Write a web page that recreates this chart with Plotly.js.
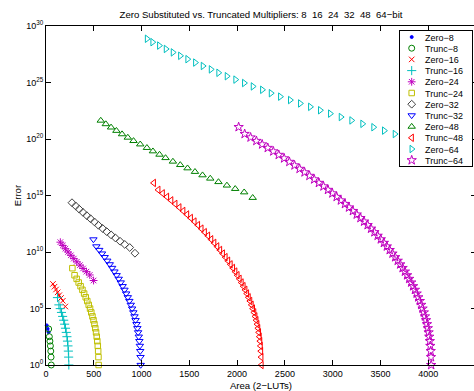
<!DOCTYPE html>
<html><head><meta charset="utf-8">
<script src="https://cdn.plot.ly/plotly-3.0.1.min.js"></script>
<style>html,body{margin:0;padding:0;overflow:hidden;background:#fff}#plot{width:480px;height:391px}</style>
</head><body><div id="plot"></div><script>
// ---- data ----
var zero8X = [8, 17, 27];
var zero8Y = [3.2e3, 1.6e3, 8.0e2];
var trunc8X = [55, 53, 50, 46, 41, 35, 28];
var trunc8Y = [1, 5, 17, 49, 130, 320, 1540];
var zero16X = [73, 89, 105, 122, 139, 157, 176, 202];
var zero16Y = [1.5e7, 8.5e6, 4.8e6, 2.7e6, 1.5e6, 8.5e5, 4.8e5, 1.5e5];
var trunc16X = [239, 237, 234, 230, 225, 219, 212, 204, 195, 185, 174, 162, 149, 135, 120];
var trunc16Y = [1, 5, 17, 49, 130, 320, 770, 1800, 4100, 9200, 2.0e4, 4.5e4, 9.8e4, 2.1e5, 9.2e5];
var zero24X = [150, 176, 203, 231, 260, 291, 322, 355, 388, 423, 458, 498];
var zero24Y = [7.4e10, 3.8e10, 1.95e10, 1.0e10, 5.1e9, 2.6e9, 1.35e9, 6.9e8, 3.5e8, 1.82e8, 9.3e7, 3.0e7];
var trunc24X = [551, 549, 546, 542, 537, 531, 524, 516, 507, 497, 486, 474, 461, 447, 432, 416, 399, 381, 362, 342, 321, 299, 276];
var trunc24Y = [1, 5, 17, 49, 130, 320, 770, 1800, 4100, 9200, 2.0e4, 4.5e4, 9.8e4, 2.1e5, 4.6e5, 9.8e5, 2.1e6, 4.5e6, 9.4e6, 2.0e7, 4.2e7, 8.8e7, 3.7e8];
var zero32X = [272, 310, 348, 387, 427, 467, 507, 549, 592, 636, 681, 727, 775, 824, 876, 931];
var zero32Y = [2.3e14, 1.2e14, 6.2e13, 3.2e13, 1.66e13, 8.7e12, 4.6e12, 2.3e12, 1.23e12, 6.3e11, 3.3e11, 1.74e11, 8.9e10, 4.7e10, 2.5e10, 7.8e9];
var trunc32X = [991, 989, 986, 982, 977, 971, 964, 956, 947, 937, 926, 914, 901, 887, 872, 856, 839, 821, 802, 782, 761, 739, 716, 692, 667, 641, 614, 586, 557, 527, 496];
var trunc32Y = [1, 5, 17, 49, 130, 320, 770, 1800, 4100, 9200, 2.0e4, 4.5e4, 9.8e4, 2.1e5, 4.6e5, 9.8e5, 2.1e6, 4.5e6, 9.4e6, 2.0e7, 4.2e7, 8.8e7, 1.85e8, 3.86e8, 8.05e8, 1.68e9, 3.49e9, 7.25e9, 1.5e10, 3.11e10, 1.29e11];
var zero48X = [573, 626, 681, 737, 796, 856, 916, 986, 1056, 1119, 1188, 1251, 1328, 1405, 1481, 1559, 1638, 1719, 1805, 1893, 1980, 2074, 2163];
var zero48Y = [4.3e21, 2.1e21, 1.07e21, 5.4e20, 2.7e20, 1.35e20, 6.8e19, 3.4e19, 1.66e19, 8.3e18, 4.2e18, 2.1e18, 1.02e18, 5.1e17, 2.6e17, 1.26e17, 6.3e16, 3.2e16, 1.58e16, 7.8e15, 3.9e15, 1.95e15, 6.3e14];
var trunc48X = [2255, 2253, 2250, 2246, 2241, 2235, 2228, 2220, 2211, 2201, 2190, 2178, 2165, 2151, 2136, 2120, 2103, 2085, 2066, 2046, 2025, 2003, 1980, 1956, 1931, 1905, 1878, 1850, 1821, 1791, 1760, 1728, 1695, 1661, 1626, 1590, 1553, 1515, 1476, 1436, 1395, 1353, 1310, 1266, 1221, 1175, 1128];
var trunc48Y = [1, 5, 17, 49, 130, 320, 770, 1800, 4100, 9200, 2.0e4, 4.5e4, 9.8e4, 2.1e5, 4.6e5, 9.8e5, 2.1e6, 4.5e6, 9.4e6, 2.0e7, 4.2e7, 8.8e7, 1.85e8, 3.86e8, 8.05e8, 1.68e9, 3.49e9, 7.25e9, 1.5e10, 3.11e10, 6.44e10, 1.33e11, 2.75e11, 5.67e11, 1.17e12, 2.41e12, 4.95e12, 1.02e13, 2.09e13, 4.29e13, 8.8e13, 1.8e14, 3.69e14, 7.56e14, 1.55e15, 3.17e15, 1.29e16];
var zero64X = [1057, 1115, 1185, 1255, 1328, 1405, 1481, 1562, 1642, 1726, 1805, 1893, 1983, 2074, 2165, 2263, 2354, 2451, 2555, 2660, 2765, 2869, 2974, 3086, 3197, 3312, 3427, 3539, 3651, 3764, 3879];
var zero64Y = [7.4e28, 3.7e28, 1.85e28, 9.3e27, 4.6e27, 2.3e27, 1.16e27, 5.8e26, 2.9e26, 1.45e26, 7.2e25, 3.6e25, 1.8e25, 9.0e24, 4.5e24, 2.26e24, 1.13e24, 5.6e23, 2.8e23, 1.4e23, 7.0e22, 3.5e22, 1.76e22, 8.8e21, 4.4e21, 2.2e21, 1.1e21, 5.5e20, 2.75e20, 1.37e20, 6.9e19];
var trunc64X = [4031, 4029, 4026, 4022, 4017, 4011, 4004, 3996, 3987, 3977, 3966, 3954, 3941, 3927, 3912, 3896, 3879, 3861, 3842, 3822, 3801, 3779, 3756, 3732, 3707, 3681, 3654, 3626, 3597, 3567, 3536, 3504, 3471, 3437, 3402, 3366, 3329, 3291, 3252, 3212, 3171, 3129, 3086, 3042, 2997, 2951, 2904, 2856, 2807, 2757, 2706, 2654, 2601, 2547, 2492, 2436, 2379, 2321, 2262, 2202, 2141, 2079, 2016];
var trunc64Y = [1, 5, 17, 49, 130, 320, 770, 1800, 4100, 9200, 2.0e4, 4.5e4, 9.8e4, 2.1e5, 4.6e5, 9.8e5, 2.1e6, 4.5e6, 9.4e6, 2.0e7, 4.2e7, 8.8e7, 1.85e8, 3.86e8, 8.05e8, 1.68e9, 3.49e9, 7.25e9, 1.5e10, 3.11e10, 6.44e10, 1.33e11, 2.75e11, 5.67e11, 1.17e12, 2.41e12, 4.95e12, 1.02e13, 2.09e13, 4.29e13, 8.8e13, 1.8e14, 3.69e14, 7.56e14, 1.55e15, 3.17e15, 6.47e15, 1.32e16, 2.7e16, 5.52e16, 1.13e17, 2.3e17, 4.68e17, 9.55e17, 1.95e18, 3.96e18, 8.07e18, 1.64e19, 3.34e19, 6.8e19, 1.38e20, 2.81e20, 1.14e21];

var seriesNames = ['Zero\u22128','Trunc\u22128','Zero\u221216','Trunc\u221216','Zero\u221224','Trunc\u221224','Zero\u221232','Trunc\u221232','Zero\u221248','Trunc\u221248','Zero\u221264','Trunc\u221264'];
var xTickVals = [0, 500, 1000, 1500, 2000, 2500, 3000, 3500, 4000, 4500];
var yTickVals = [1, 1e5, 1e10, 1e15, 1e20, 1e25, 1e30];
var yTickText = ['10<sup>0</sup>','10<sup>5</sup>','10<sup>10</sup>','10<sup>15</sup>','10<sup>20</sup>','10<sup>25</sup>','10<sup>30</sup>'];

// ---- styles ----
var C = {b:'#0000ff', g:'#008000', r:'#ff0000', c:'#00bfbf', m:'#bf00bf', y:'#bfbf00', k:'#404040'};
var styles = [
  [C.b,'circle',3], [C.g,'circle-open',6], [C.r,'x-thin-open',5.5], [C.c,'cross-thin-open',6.5],
  [C.m,'asterisk-open',6.5], [C.y,'square-open',5.5], [C.k,'diamond-open',6], [C.b,'triangle-down-open',6.5],
  [C.g,'triangle-up-open',6.5], [C.r,'triangle-left-open',6.5], [C.c,'triangle-right-open',6.5], [C.m,'star-open',7]
];
var xs = [zero8X,trunc8X,zero16X,trunc16X,zero24X,trunc24X,zero32X,trunc32X,zero48X,trunc48X,zero64X,trunc64X];
var ys = [zero8Y,trunc8Y,zero16Y,trunc16Y,zero24Y,trunc24Y,zero32Y,trunc32Y,zero48Y,trunc48Y,zero64Y,trunc64Y];
var traces = xs.map(function(x,i){
  var s = styles[i];
  return {type:'scatter', mode:'markers', name:seriesNames[i], x:x, y:ys[i], cliponaxis:false,
    marker:{color:s[0], symbol:s[1], size:s[2], line:{color:s[0], width:1}}};
});

var FONT = 'Liberation Sans, Arial, Helvetica, sans-serif';
var layout = {
  width:480, height:391,
  margin:{l:46, r:4, t:26, b:26, autoexpand:false},
  paper_bgcolor:'#fff', plot_bgcolor:'#fff',
  font:{family:FONT, size:9, color:'#000'},
  hovermode:false,
  title:{text:'Zero Substituted vs. Truncated Multipliers: 8 \u00a016 \u00a024 \u00a032 \u00a048 \u00a064\u2212bit',
    font:{family:FONT, size:9.6, color:'#000'}, x:0.5, xref:'paper', xanchor:'center', y:1-15/391, yanchor:'middle'},
  xaxis:{range:[0,4500], tickmode:'array', tickvals:xTickVals, ticks:'inside', ticklen:5, tickwidth:1, tickcolor:'#000',
    tickfont:{family:FONT, size:9, color:'#000'},
    showline:true, linecolor:'#000', linewidth:1, mirror:'ticks', showgrid:false, zeroline:false,
    title:{text:'Area (2\u2212LUTs)', font:{family:FONT, size:9.6, color:'#000'}, standoff:5}},
  yaxis:{type:'log', range:[0,30], tickmode:'array', tickvals:yTickVals, ticktext:yTickText, ticks:'inside', ticklen:5, tickwidth:1, tickcolor:'#000',
    tickfont:{family:FONT, size:9, color:'#000'},
    showline:true, linecolor:'#000', linewidth:1, mirror:'ticks', showgrid:false, zeroline:false,
    title:{text:'Error', font:{family:FONT, size:9.6, color:'#000'}, standoff:2}},
  showlegend:true,
  legend:{x:0.82, y:0.99, xanchor:'left', yanchor:'top', bgcolor:'#fff', bordercolor:'#000', borderwidth:1,
    font:{family:FONT, size:9, color:'#000'}, traceorder:'normal'}
};

var gd = document.getElementById('plot');
Plotly.newPlot(gd, traces, layout, {staticPlot:true, displayModeBar:false}).then(function(){
  var leg = gd.querySelector('g.legend');
  if(!leg) return;
  leg.setAttribute('transform','translate(399,30)');
  var bg = leg.querySelector('rect.bg');
  if(bg){ bg.setAttribute('x',0.5); bg.setAttribute('y',0.5); bg.setAttribute('width',73); bg.setAttribute('height',136); }
  var sb = leg.querySelector('g.scrollbox');
  if(sb){ sb.removeAttribute('clip-path'); sb.setAttribute('transform','translate(0,0)'); }
  var items = leg.querySelectorAll('g.traces');
  items.forEach(function(g,i){
    g.setAttribute('transform','translate(0,'+(7+i*11.2)+')');
    var t = g.querySelector('text.legendtext'); if(t){ t.setAttribute('x',26); }
    g.querySelectorAll('path.scatterpts').forEach(function(p){ p.setAttribute('transform','translate(12.7,0)'); });
  });
});
</script></body></html>
